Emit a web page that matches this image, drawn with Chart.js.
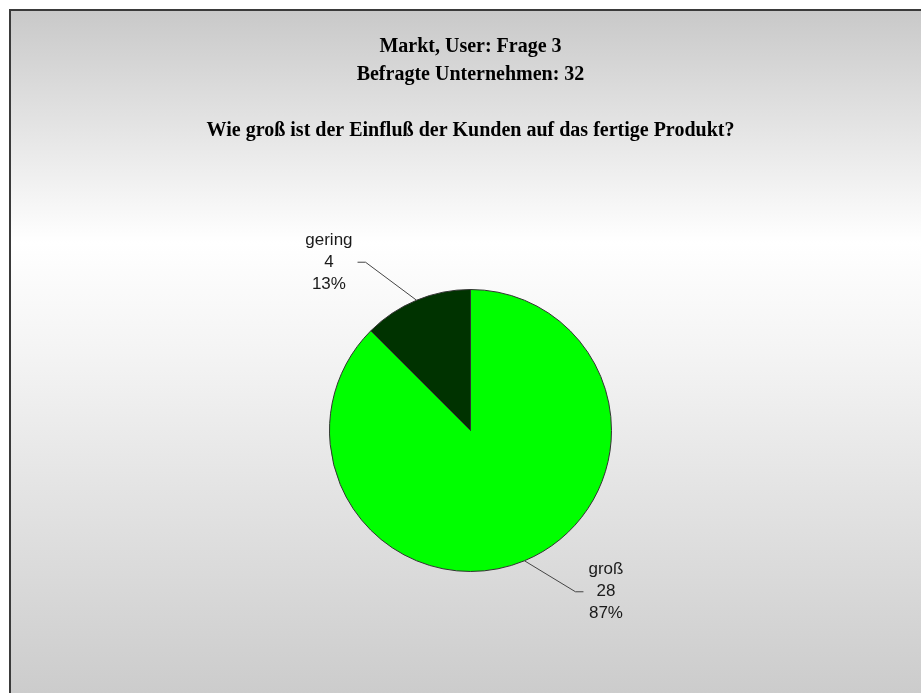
<!DOCTYPE html>
<html>
<head>
<meta charset="utf-8">
<script src="https://cdn.jsdelivr.net/npm/chart.js@4/dist/chart.umd.min.js"></script>
<style>
  html, body { margin: 0; padding: 0; background: #ffffff; width: 921px; height: 693px; overflow: hidden; }
  #frame {
    position: absolute; left: 9px; top: 9px; width: 912px; height: 684px;
    box-sizing: border-box;
    border-left: 2px solid #3a3a3a; border-top: 2px solid #3a3a3a;
    background: linear-gradient(to bottom, #c9c9c9 0%, #ffffff 34%, #f4f4f4 50%, #cccccc 100%);
  }
  canvas { display: block; }
</style>
</head>
<body>
<div id="frame"><canvas id="c" width="910" height="682"></canvas></div>
<script>
// ---- data ----
const categories = ['groß', 'gering'];
const counts = [28, 4];
const percentLabels = ['87%', '13%'];
const sliceColors = ['#00ff00', '#003300'];
const titleLines = ['Markt, User: Frage 3', 'Befragte Unternehmen: 32', '', 'Wie groß ist der Einfluß der Kunden auf das fertige Produkt?'];

const labelPlugin = {
  id: 'sliceLabels',
  afterDatasetsDraw(chart) {
    const ctx = chart.ctx;
    const meta = chart.getDatasetMeta(0);
    ctx.save();
    ctx.font = '17px "Liberation Sans", Arial, sans-serif';
    meta.data.forEach((arc, i) => {
      const p = arc.getProps(['x', 'y', 'startAngle', 'endAngle', 'outerRadius'], true);
      const mid = (p.startAngle + p.endAngle) / 2;
      const ax = p.x + Math.cos(mid) * p.outerRadius;
      const ay = p.y + Math.sin(mid) * p.outerRadius;
      const side = Math.cos(mid) >= 0 ? 1 : -1;
      const vs = Math.sin(mid) >= 0 ? 1 : -1;
      const ex = ax + side * 51;
      const ey = ay + vs * (vs < 0 ? 38 : 31);
      const hx = ex + side * 8;
      ctx.strokeStyle = '#444444';
      ctx.lineWidth = 1;
      ctx.beginPath();
      ctx.moveTo(ax, ay);
      ctx.lineTo(ex, ey);
      ctx.lineTo(hx, ey);
      ctx.stroke();
      const lines = [categories[i], String(counts[i]), percentLabels[i]];
      const maxW = Math.max(...lines.map(l => ctx.measureText(l).width));
      const cx = hx + side * (maxW / 2 + 5);
      ctx.fillStyle = '#1a1a1a';
      ctx.textAlign = 'center';
      ctx.textBaseline = 'middle';
      lines.forEach((l, k) => ctx.fillText(l, cx, ey + (k - 1) * 22));
    });
    ctx.restore();
  }
};

new Chart(document.getElementById('c'), {
  type: 'pie',
  data: {
    labels: categories,
    datasets: [{
      data: counts,
      backgroundColor: sliceColors,
      borderColor: '#333333',
      borderWidth: 1,
      hoverOffset: 0
    }]
  },
  options: {
    responsive: false,
    animation: false,
    devicePixelRatio: 1,
    layout: { padding: { left: 9, right: 0, top: 0, bottom: 121 } },
    plugins: {
      legend: { display: false },
      tooltip: { enabled: false },
      title: {
        display: true,
        text: titleLines,
        color: '#000000',
        font: { family: '"Liberation Serif", "Times New Roman", serif', size: 20, weight: 'bold', lineHeight: '28px' },
        padding: { top: 22, bottom: 144 }
      }
    }
  },
  plugins: [labelPlugin]
});
</script>
</body>
</html>
